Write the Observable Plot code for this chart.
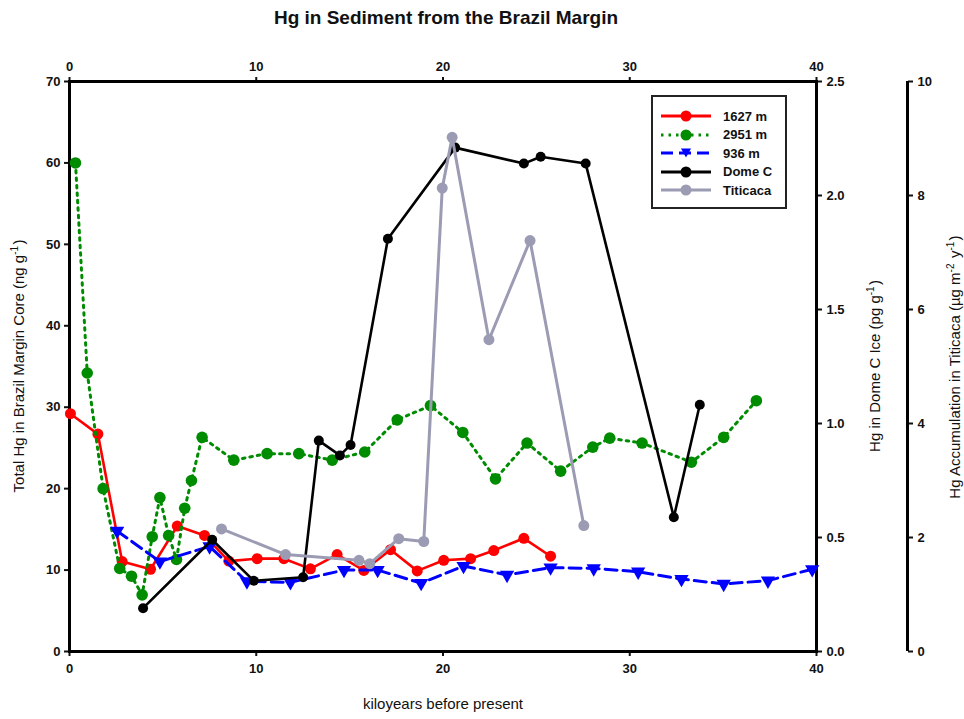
<!DOCTYPE html>
<html>
<head>
<meta charset="utf-8">
<script src="https://cdn.jsdelivr.net/npm/d3@7"></script>
<script src="https://cdn.jsdelivr.net/npm/@observablehq/plot@0.6"></script>
<style>
  html, body { margin: 0; padding: 0; background: #fff; }
  #wrap { position: relative; width: 964px; height: 719px; font-family: "Liberation Sans", Arial, sans-serif; }
  #legend { position: absolute; left: 651px; top: 95px; width: 132px; height: 110px; border: 2px solid #222; background: #fff; box-sizing: content-box; }
  #legend .row { position: absolute; left: 0; height: 18px; display: flex; align-items: center; }
  #legend .row span { font-size: 13px; font-weight: bold; color: #111; margin-left: 10px; }
</style>
</head>
<body>
<div id="wrap"></div>
<script>
// ---- data ----
const age1627 = [0.05,1.52,2.82,4.34,5.77,7.23,8.53,10.05,11.48,12.9,14.33,15.76,17.19,18.62,20.04,21.48,22.72,24.33,25.76];
const hg1627  = [29.2,26.7,11.05,10.1,15.4,14.25,11.1,11.4,11.4,10.15,11.9,9.95,12.5,9.9,11.2,11.4,12.4,13.9,11.7];

const age2951 = [0.32,0.95,1.8,2.69,3.32,3.89,4.43,4.84,5.31,5.73,6.17,6.53,7.1,8.8,10.58,12.28,14.07,15.81,17.55,19.33,21.06,22.81,24.5,26.3,28.02,28.93,30.66,33.3,35.03,36.78];
const hg2951  = [60.0,34.2,20.0,10.2,9.25,6.96,14.1,18.9,14.25,11.3,17.6,21.0,26.3,23.5,24.3,24.3,23.5,24.5,28.45,30.2,26.9,21.2,25.6,22.15,25.1,26.2,25.6,23.25,26.3,30.8];

const age936 = [2.55,4.84,7.5,9.5,11.83,14.7,16.5,18.83,21.1,23.43,25.76,28.07,30.45,32.77,35.03,37.4,39.77];
const hg936  = [14.8,11.05,12.9,8.6,8.5,10.0,10.0,8.4,10.5,9.4,10.3,10.2,9.8,8.9,8.3,8.7,10.1];

const ageDome = [3.94,7.64,9.87,12.51,13.35,14.48,15.05,17.05,20.65,24.33,25.23,27.64,32.36,33.75];
const hgDome  = [0.19,0.49,0.31,0.326,0.925,0.86,0.906,1.81,2.21,2.14,2.17,2.14,0.589,1.082];

const ageTit = [8.14,11.57,15.5,16.08,17.63,18.97,19.96,20.49,22.46,24.66,27.54];
const hgTit  = [2.15,1.70,1.6,1.54,1.98,1.93,8.13,9.02,5.47,7.21,2.21];

const xTicks = [0,10,20,30,40];
const yTicks = [0,10,20,30,40,50,60,70];
const domeTicks = [0.0,0.5,1.0,1.5,2.0,2.5];
const titTicks = [0,2,4,6,8,10];

const seriesNames = ["1627 m","2951 m","936 m","Dome C","Titicaca"];
const colors = ["#ff0000","#008c00","#0000ff","#000000","#9b9bb4"];

// ---- scale factors between axes (left axis 0-70) ----
const yMax = 70, domeMax = 2.5, titMax = 10;
const kDome = yMax / domeMax, kTit = yMax / titMax;

const zip = (xs, ys, k = 1) => xs.map((x, i) => ({x, y: ys[i] * k}));
const d1627 = zip(age1627, hg1627);
const d2951 = zip(age2951, hg2951);
const d936 = zip(age936, hg936);
const dDome = zip(ageDome, hgDome, kDome);
const dTit = zip(ageTit, hgTit, kTit);

const font = "'Liberation Sans', Arial, sans-serif";
const dotDash = "2.5,5";
const ax = {tickSize: 5, strokeWidth: 2, label: null, fontSize: 13, fontWeight: "bold"};

const plot = Plot.plot({
  width: 964,
  height: 719,
  marginLeft: 69,
  marginRight: 148,
  marginTop: 81,
  marginBottom: 68,
  style: {fontFamily: font, fontSize: "13px", fontWeight: "bold", color: "#111", background: "#fff"},
  x: {domain: [0, 40]},
  y: {domain: [0, yMax]},
  marks: [
    // axes
    Plot.axisX({...ax, anchor: "bottom", ticks: xTicks, tickPadding: 7}),
    Plot.axisX({...ax, anchor: "top", ticks: xTicks, tickPadding: 6}),
    Plot.axisY({...ax, anchor: "left", ticks: yTicks, tickPadding: 4}),
    Plot.axisY({...ax, anchor: "right", ticks: domeTicks.map(v => v * kDome), tickFormat: d => (d / kDome).toFixed(1), tickPadding: 5}),
    Plot.axisY({...ax, anchor: "right", dx: 91, ticks: titTicks.map(v => v * kTit), tickFormat: d => String(Math.round(d / kTit)), tickPadding: 5}),
    Plot.ruleX([40], {dx: 91, strokeWidth: 3, stroke: "#000"}),
    Plot.frame({stroke: "#000", strokeWidth: 3}),
    // 1627 m
    Plot.line(d1627, {x: "x", y: "y", stroke: colors[0], strokeWidth: 2.6}),
    Plot.dot(d1627, {x: "x", y: "y", r: 5.5, fill: colors[0]}),
    // 2951 m
    Plot.line(d2951, {x: "x", y: "y", stroke: colors[1], strokeWidth: 3, strokeDasharray: dotDash}),
    Plot.dot(d2951, {x: "x", y: "y", r: 5.8, fill: colors[1]}),
    // 936 m
    Plot.line(d936, {x: "x", y: "y", stroke: colors[2], strokeWidth: 3, strokeDasharray: "12,6"}),
    Plot.dot(d936, {x: "x", y: "y", r: 5.3, symbol: "triangle", rotate: 180, fill: colors[2]}),
    // Dome C
    Plot.line(dDome, {x: "x", y: "y", stroke: colors[3], strokeWidth: 2.6}),
    Plot.dot(dDome, {x: "x", y: "y", r: 5, fill: colors[3]}),
    // Titicaca
    Plot.line(dTit, {x: "x", y: "y", stroke: colors[4], strokeWidth: 3}),
    Plot.dot(dTit, {x: "x", y: "y", r: 5.5, fill: colors[4]})
  ]
});

const wrap = document.getElementById("wrap");
wrap.appendChild(plot);

// titles and axis labels with superscripts
const svg = d3.select(plot);
svg.append("text").attr("x", 446).attr("y", 24).attr("text-anchor", "middle")
  .style("font-family", font).style("font-size", "19px").style("font-weight", "bold").attr("fill", "#111")
  .text("Hg in Sediment from the Brazil Margin");

svg.append("text").attr("x", 443).attr("y", 709).attr("text-anchor", "middle")
  .style("font-family", font).style("font-size", "15px").style("font-weight", "normal").attr("fill", "#111")
  .text("kiloyears before present");

function vlabel(x, y, main, sups) {
  const t = svg.append("text").attr("transform", `translate(${x},${y}) rotate(-90)`).attr("text-anchor", "middle")
    .style("font-family", font).style("font-size", "15px").style("font-weight", "normal").attr("fill", "#111");
  t.append("tspan").text(main);
  sups.forEach(([base, sup]) => {
    t.append("tspan").text(base);
    t.append("tspan").attr("dy", -6).style("font-size", "10px").text(sup);
    t.append("tspan").attr("dy", 6).text("\u200A");
  });
  t.append("tspan").text(")");
}
vlabel(24, 366, "Total Hg in Brazil Margin Core (", [["ng g", "-1"]]);
vlabel(880, 366, "Hg in Dome C Ice (", [["pg g", "-1"]]);
vlabel(960, 367, "Hg Accumulation in Titicaca (", [["\u00b5g m", "-2"], [" y", "-1"]]);

// legend
const legend = document.createElement("div");
legend.id = "legend";
const dashes = [null, dotDash, "12,6", null, null];
seriesNames.forEach((name, i) => {
  const row = document.createElement("div");
  row.className = "row";
  row.style.top = (10 + i * 18.5) + "px";
  const s = d3.create("svg").attr("width", 60).attr("height", 16);
  s.append("line").attr("x1", 8).attr("x2", 58).attr("y1", 8).attr("y2", 8)
    .attr("stroke", colors[i]).attr("stroke-width", 3).attr("stroke-dasharray", dashes[i]);
  if (i === 2) {
    s.append("path").attr("d", "M28,3.5 L38,3.5 L33,12.5 Z").attr("fill", colors[i]);
  } else {
    s.append("circle").attr("cx", 33).attr("cy", 8).attr("r", 5.5).attr("fill", colors[i]);
  }
  row.appendChild(s.node());
  const sp = document.createElement("span");
  sp.textContent = name;
  row.appendChild(sp);
  legend.appendChild(row);
});
wrap.appendChild(legend);
</script>
</body>
</html>
